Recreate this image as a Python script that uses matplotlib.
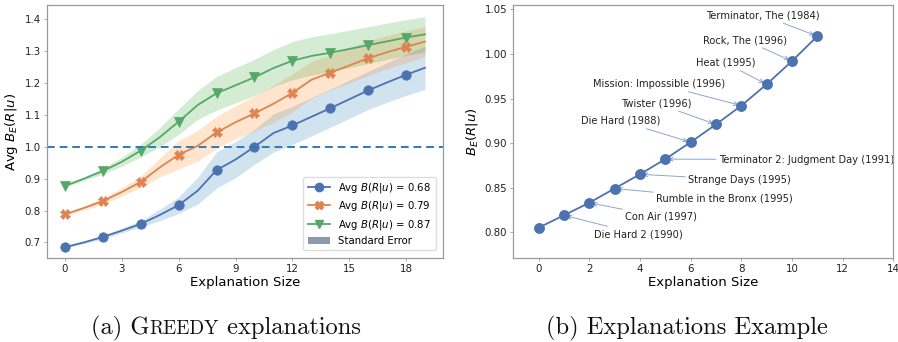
import numpy as np
import matplotlib
matplotlib.use("Agg")
import matplotlib.pyplot as plt
from matplotlib.patches import Patch
from matplotlib.lines import Line2D

# ---------------- data ----------------
sizes = list(range(20))
mean_068 = [0.685, 0.700, 0.717, 0.737, 0.758, 0.786, 0.817, 0.862, 0.927, 0.960,
            1.000, 1.043, 1.067, 1.094, 1.121, 1.149, 1.177, 1.202, 1.226, 1.248]
err_068 = [0.003, 0.004, 0.005, 0.007, 0.010, 0.018, 0.026, 0.042, 0.057, 0.057,
           0.055, 0.060, 0.060, 0.060, 0.060, 0.060, 0.060, 0.062, 0.065, 0.068]
mean_079 = [0.788, 0.808, 0.830, 0.858, 0.890, 0.935, 0.975, 1.003, 1.045, 1.077,
            1.105, 1.135, 1.169, 1.210, 1.233, 1.255, 1.278, 1.297, 1.314, 1.330]
err_079 = [0.004, 0.006, 0.010, 0.013, 0.018, 0.030, 0.045, 0.048, 0.050, 0.052,
           0.055, 0.058, 0.060, 0.058, 0.055, 0.055, 0.055, 0.052, 0.050, 0.047]
mean_087 = [0.877, 0.900, 0.924, 0.953, 0.988, 1.030, 1.079, 1.131, 1.168, 1.193,
            1.218, 1.247, 1.270, 1.285, 1.295, 1.307, 1.319, 1.331, 1.343, 1.353]
err_087 = [0.003, 0.006, 0.010, 0.014, 0.020, 0.030, 0.040, 0.045, 0.053, 0.055,
           0.057, 0.058, 0.060, 0.060, 0.060, 0.059, 0.058, 0.057, 0.056, 0.055]
series_labels = ["Avg $B(R|u)$ = 0.68", "Avg $B(R|u)$ = 0.79", "Avg $B(R|u)$ = 0.87"]
left_xticks = [0, 3, 6, 9, 12, 15, 18]
left_yticks = [0.7, 0.8, 0.9, 1.0, 1.1, 1.2, 1.3, 1.4]

ex_sizes = list(range(12))
ex_values = [0.805, 0.819, 0.833, 0.849, 0.865, 0.882, 0.901, 0.921, 0.942, 0.966, 0.992, 1.020]
ex_movies = ["Die Hard 2 (1990)", "Con Air (1997)", "Rumble in the Bronx (1995)",
             "Strange Days (1995)", "Terminator 2: Judgment Day (1991)", "Die Hard (1988)",
             "Twister (1996)", "Mission: Impossible (1996)", "Heat (1995)",
             "Rock, The (1996)", "Terminator, The (1984)"]
ex_label_x = [3.92, 4.84, 7.33, 7.93, 10.57, 3.25, 4.66, 4.75, 7.37, 8.15, 8.85]
ex_label_y = [0.7978, 0.8172, 0.8374, 0.8587, 0.8815, 0.9248, 0.9446, 0.9663, 0.990, 1.0156, 1.0433]
right_xticks = [0, 2, 4, 6, 8, 10, 12, 14]
right_yticks = [0.80, 0.85, 0.90, 0.95, 1.00, 1.05]

# ---------------- style ----------------
colors = ["#4C72B0", "#DD8452", "#55A868"]
fill_colors = ["#1f77b4", "#ff7f0e", "#2ca02c"]
markers = ["o", "X", "v"]
spine_col = "#9a9a9a"
tick_fs = 7.4
label_fs = 9.5

fig = plt.figure(figsize=(8.98, 3.42), dpi=100)
axL = fig.add_axes([47/898, 1-258/342, (443-47)/898, (258-5)/342])
axR = fig.add_axes([513.3/898, 1-258/342, (893.3-513.3)/898, (258-5)/342])

for ax in (axL, axR):
    for s in ax.spines.values():
        s.set_color(spine_col)
        s.set_linewidth(0.9)
    ax.tick_params(colors="#222222", labelsize=tick_fs, length=2.5, width=0.6,
                   color=spine_col, pad=2)

# ---- left panel ----
means = [mean_068, mean_079, mean_087]
errs = [err_068, err_079, err_087]
x = np.array(sizes)
for m, e, c, fc, mk, lab in zip(means, errs, colors, fill_colors, markers, series_labels):
    m = np.array(m); e = np.array(e)
    axL.fill_between(x, m - e, m + e, color=fc, alpha=0.2, linewidth=0)
    axL.plot(x, m, color=c, marker=mk, markevery=2, markersize=6.8,
             linewidth=1.3, label=lab, markeredgewidth=0.5, markeredgecolor=c)
axL.axhline(1.0, color="#2b7bba", linestyle=(0, (4, 2.5)), linewidth=1.4)
axL.set_xlim(-0.95, 19.95)
axL.set_ylim(0.651, 1.445)
axL.set_xticks(left_xticks)
axL.set_yticks(left_yticks)
axL.set_yticklabels([f"{v:.1f}" for v in left_yticks])
axL.set_xlabel("Explanation Size", fontsize=label_fs, labelpad=1)
axL.set_ylabel("Avg $B_E(R|u)$", fontsize=label_fs, labelpad=3)

handles = [Line2D([], [], color=c, marker=mk, markersize=6, linewidth=1.3) for c, mk in zip(colors, markers)]
handles.append(Patch(facecolor="#8c9aab", edgecolor="none"))
axL.legend(handles, series_labels + ["Standard Error"], loc="lower right",
           fontsize=7.3, frameon=True, framealpha=1, edgecolor="#dddddd",
           borderpad=0.45, labelspacing=0.42, handlelength=2.2, handletextpad=0.8,
           bbox_to_anchor=(0.995, 0.01))

# ---- right panel ----
axR.plot(ex_sizes, ex_values, color=colors[0], marker="o", markersize=6.8,
         linewidth=1.3, zorder=3)
for i, (name, tx, ty) in enumerate(zip(ex_movies, ex_label_x, ex_label_y)):
    axR.annotate(name, xy=(ex_sizes[i + 1], ex_values[i + 1]), xytext=(tx, ty),
                 textcoords="data", fontsize=7.1, color="#222222",
                 ha="center", va="center", zorder=2,
                 arrowprops=dict(arrowstyle="->", color="#8aa6d4", lw=0.7,
                                 shrinkA=0, shrinkB=2))
axR.set_xlim(-1, 14)
axR.set_ylim(0.771, 1.055)
axR.set_xticks(right_xticks)
axR.set_yticks(right_yticks)
axR.set_yticklabels([f"{v:.2f}" for v in right_yticks])
axR.set_xlabel("Explanation Size", fontsize=label_fs, labelpad=1)
axR.set_ylabel("$B_E(R|u)$", fontsize=label_fs, labelpad=3)

# ---- captions (serif, with small caps for GREEDY) ----
cap_font = "cmr10"
cap_fs = 17.6
sc_fs = 13.8

def place_pieces(pieces, center_px, baseline_px):
    fig.canvas.draw()
    r = fig.canvas.get_renderer()
    texts = []
    for s, fs in pieces:
        t = fig.text(0, 0, s, fontsize=fs, family=cap_font, va="baseline", ha="left",
                     color="#111111")
        texts.append(t)
    widths = [t.get_window_extent(renderer=r).width for t in texts]
    total = sum(widths)
    xpos = center_px - total / 2
    for t, w in zip(texts, widths):
        t.set_position((xpos / 898, 1 - baseline_px / 342))
        xpos += w

place_pieces([("(a) G", cap_fs), ("REEDY", sc_fs), (" explanations", cap_fs)], 226, 334)
place_pieces([("(b) Explanations Example", cap_fs)], 687, 334)

fig.savefig("out.png", dpi=100)
